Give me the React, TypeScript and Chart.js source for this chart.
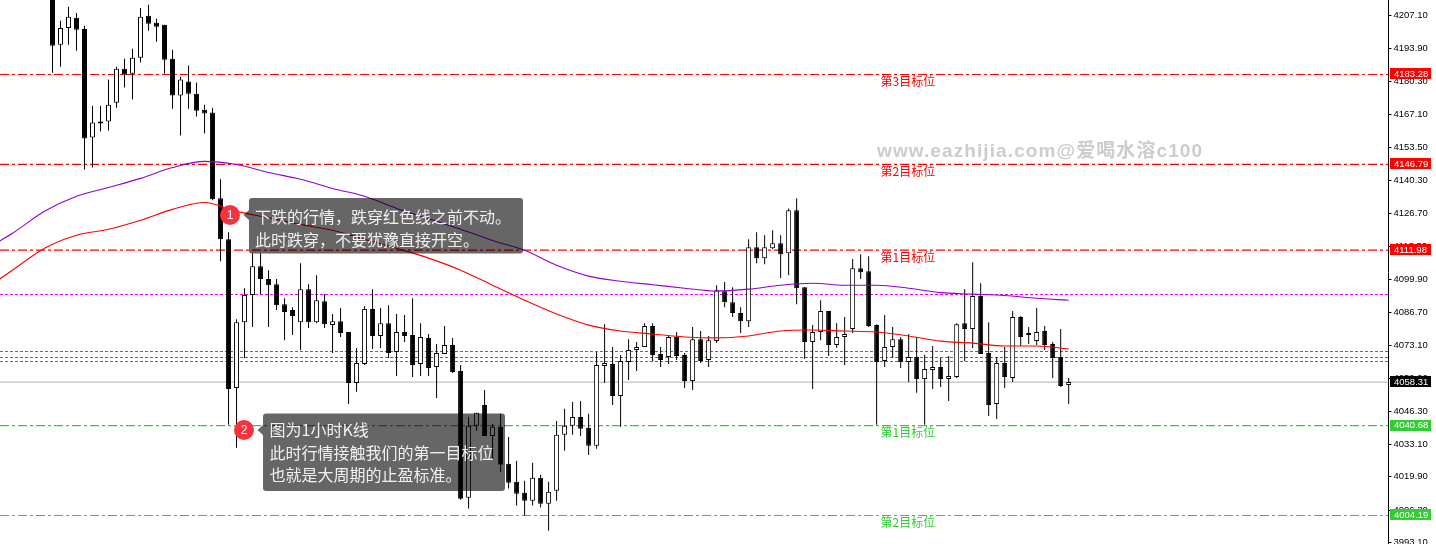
import React, { useEffect, useRef } from "react";
import { Chart, registerables } from "chart.js";

Chart.register(...registerables);

const opens = [
  4217.2, 4195.4, 4202.2, 4206.3, 4201.8, 4157.7, 4164.2, 4164.2, 4171.8, 4185.6, 4183.6, 4190.1, 4207.1, 4204.3, 4203.5, 4189.7,
  4174.7, 4180.4, 4175.5, 4169.0, 4167.8, 4133.0, 4116.4, 4056.0, 4082.7, 4093.7, 4105.4, 4100.2, 4098.1, 4090.0, 4087.6, 4082.7,
  4096.1, 4082.7, 4091.2, 4081.5, 4083.1, 4078.7, 4058.0, 4065.7, 4088.0, 4077.1, 4082.3, 4070.6, 4078.7, 4077.5, 4065.7, 4076.3,
  4064.5, 4069.8, 4073.4, 4062.9, 4011.4, 4040.6, 4049.1, 4036.5, 4040.2, 4025.2, 4017.9, 4013.4, 4010.2, 4019.5, 4009.0, 4014.2,
  4037.0, 4040.6, 4044.2, 4039.8, 4032.5, 4064.9, 4065.7, 4052.7, 4066.5, 4071.4, 4072.6, 4081.1, 4069.8, 4068.6, 4076.7, 4069.4,
  4058.8, 4075.8, 4067.3, 4075.0, 4095.3, 4090.8, 4086.4, 4083.1, 4113.1, 4108.7, 4112.7, 4114.7, 4110.7, 4128.1, 4096.9, 4074.6,
  4078.7, 4087.2, 4073.4, 4076.7, 4079.9, 4104.6, 4103.4, 4081.5, 4066.9, 4072.6, 4075.8, 4066.5, 4068.6, 4059.6, 4063.3, 4064.5,
  4059.6, 4060.4, 4082.3, 4079.9, 4093.3, 4070.2, 4049.5, 4066.1, 4060.0, 4084.8, 4077.5, 4075.0, 4079.1, 4073.8, 4068.6, 4057.2,
];
const highs = [
  4219.0, 4205.1, 4210.8, 4208.3, 4203.1, 4170.6, 4170.6, 4181.2, 4186.4, 4189.7, 4193.7, 4210.3, 4211.6, 4205.9, 4203.5, 4193.3,
  4182.4, 4186.9, 4180.0, 4171.0, 4169.8, 4140.7, 4119.2, 4083.9, 4096.5, 4110.7, 4110.7, 4103.8, 4100.2, 4092.4, 4088.8, 4106.6,
  4098.1, 4101.8, 4094.1, 4086.0, 4088.4, 4078.7, 4072.2, 4089.2, 4096.1, 4088.4, 4089.6, 4086.0, 4085.6, 4092.4, 4082.3, 4077.9,
  4073.8, 4081.1, 4076.3, 4065.3, 4044.2, 4045.9, 4055.2, 4041.4, 4045.5, 4036.1, 4026.4, 4018.3, 4025.6, 4020.7, 4017.9, 4042.6,
  4047.5, 4050.3, 4050.7, 4045.5, 4070.6, 4081.9, 4072.6, 4069.4, 4075.8, 4074.6, 4082.3, 4082.3, 4072.6, 4077.5, 4078.7, 4070.2,
  4080.7, 4079.1, 4077.1, 4097.7, 4099.0, 4096.9, 4088.8, 4116.4, 4119.2, 4118.0, 4120.0, 4118.0, 4128.9, 4133.0, 4096.9, 4081.5,
  4091.6, 4087.2, 4082.3, 4084.8, 4108.3, 4110.3, 4109.5, 4081.9, 4085.6, 4080.7, 4076.7, 4077.9, 4076.7, 4069.4, 4073.0, 4068.1,
  4069.0, 4082.3, 4096.1, 4107.0, 4098.5, 4082.7, 4068.6, 4072.6, 4087.2, 4085.2, 4080.7, 4088.4, 4081.1, 4074.6, 4079.9, 4060.0,
];
const lows = [
  4184.0, 4186.4, 4195.4, 4192.9, 4144.7, 4145.5, 4160.1, 4160.5, 4169.8, 4178.0, 4173.1, 4188.1, 4201.0, 4196.6, 4183.6, 4169.4,
  4158.5, 4169.4, 4166.2, 4159.3, 4132.2, 4107.4, 4041.0, 4031.7, 4068.1, 4080.7, 4094.1, 4080.7, 4087.6, 4075.4, 4077.5, 4071.4,
  4080.3, 4082.3, 4080.3, 4070.2, 4076.7, 4049.5, 4054.4, 4065.3, 4071.8, 4072.2, 4068.1, 4060.8, 4074.6, 4060.4, 4060.8, 4060.8,
  4051.9, 4069.8, 4062.1, 4010.6, 4007.0, 4038.6, 4036.5, 4026.8, 4021.9, 4015.1, 4008.2, 4004.1, 4008.2, 4007.4, 3998.0, 4010.2,
  4030.5, 4037.0, 4036.5, 4028.8, 4031.3, 4058.0, 4049.1, 4040.2, 4059.2, 4062.9, 4072.6, 4066.9, 4064.5, 4065.7, 4067.3, 4056.0,
  4055.2, 4066.1, 4064.5, 4074.2, 4088.8, 4084.8, 4078.3, 4080.7, 4106.6, 4106.2, 4112.3, 4100.6, 4101.8, 4090.0, 4067.7, 4055.6,
  4075.4, 4069.0, 4072.2, 4065.3, 4078.3, 4100.2, 4080.7, 4041.0, 4064.5, 4068.1, 4064.1, 4058.4, 4054.0, 4041.0, 4055.6, 4056.4,
  4050.7, 4060.0, 4066.9, 4072.2, 4069.8, 4044.6, 4043.4, 4056.0, 4058.4, 4073.0, 4073.8, 4073.4, 4071.4, 4060.0, 4056.4, 4049.5,
];
const closes = [
  4195.0, 4202.2, 4206.7, 4201.4, 4157.3, 4163.8, 4163.4, 4171.0, 4185.6, 4183.2, 4190.1, 4206.7, 4203.9, 4202.7, 4189.3, 4174.7,
  4181.2, 4175.5, 4168.6, 4167.4, 4132.6, 4116.4, 4055.6, 4082.7, 4093.7, 4105.4, 4100.2, 4097.7, 4089.6, 4086.8, 4085.2, 4096.1,
  4082.7, 4091.6, 4081.9, 4083.1, 4078.3, 4058.0, 4066.1, 4088.0, 4077.1, 4082.3, 4070.2, 4078.7, 4077.1, 4065.3, 4076.7, 4064.1,
  4070.2, 4073.4, 4062.5, 4011.0, 4040.6, 4045.9, 4036.5, 4040.2, 4024.8, 4017.5, 4013.0, 4010.2, 4019.5, 4009.0, 4013.8, 4037.0,
  4040.6, 4044.2, 4039.4, 4032.5, 4065.3, 4066.1, 4052.7, 4066.9, 4071.4, 4072.6, 4081.1, 4069.4, 4067.3, 4076.7, 4069.0, 4058.8,
  4075.8, 4066.9, 4075.4, 4095.7, 4090.8, 4086.4, 4083.1, 4113.1, 4108.7, 4113.1, 4114.7, 4110.3, 4128.1, 4096.5, 4074.6, 4078.7,
  4087.2, 4073.4, 4076.7, 4077.9, 4104.6, 4103.0, 4081.1, 4066.5, 4072.6, 4075.8, 4066.5, 4068.6, 4059.6, 4063.7, 4064.5, 4059.6,
  4060.8, 4081.9, 4079.9, 4093.3, 4069.8, 4049.1, 4066.1, 4060.4, 4084.8, 4076.7, 4077.5, 4078.7, 4073.4, 4068.1, 4056.8, 4058.4,
];

// Moving averages, read every fourth bar, first reading at bar -9.
const maBars = [
  -9, -5, -1, 3, 7, 11, 15, 19, 23, 27, 31, 35, 39, 43, 47, 51, 55, 59, 63, 67, 71, 75, 79, 83, 87, 91, 95, 99, 103, 107, 111, 115, 119, 123, 127,
];
const maSlow = [
  4111.1, 4118.8, 4127.7, 4133.8, 4137.4, 4141.1, 4145.5, 4148.0, 4146.7, 4143.5, 4140.7, 4137.0, 4133.8, 4128.9, 4124.7, 4120.4, 4115.9, 4111.9,
  4105.8, 4101.4, 4099.3, 4097.9, 4096.5, 4095.3, 4096.1, 4097.7, 4098.5, 4097.7, 4097.7, 4096.5, 4094.7, 4094.1, 4093.5, 4092.4, 4091.6,
];
const maFast = [
  4094.9, 4103.8, 4112.7, 4118.0, 4120.4, 4124.1, 4128.5, 4131.3, 4127.7, 4125.1, 4122.4, 4120.0, 4116.4, 4112.7, 4108.7, 4103.8, 4097.7, 4091.6,
  4086.0, 4081.5, 4079.1, 4077.9, 4076.7, 4076.3, 4077.1, 4079.1, 4079.5, 4079.1, 4078.7, 4077.1, 4075.0, 4074.2, 4073.0, 4073.0, 4071.8,
];

const tickValues = [
  4207.1, 4193.9, 4180.3, 4167.1, 4153.5, 4140.3, 4126.7, 4113.5, 4099.9, 4086.7, 4073.1, 4059.9, 4046.3, 4033.1, 4019.9, 4006.3, 3993.1,
];
const redLevels = [4183.28, 4146.79, 4111.98];
const greenLevels = [4040.68, 4004.19];
const magentaLevels = [4093.93, 4070.78, 4068.35, 4066.73];
const lastPrice = 4058.31;

const redLabels = ["第3目标位", "第2目标位", "第1目标位"];
const greenLabels = ["第1目标位", "第2目标位"];
const watermark = "www.eazhijia.com@爱喝水溶c100";
const note1 = ["下跌的行情，跌穿红色线之前不动。", "此时跌穿，不要犹豫直接开空。"];
const note2 = ["图为1小时K线", "此时行情接触我们的第一目标位", "也就是大周期的止盈标准。"];

const X_MIN = -6.5625;
const X_MAX = 166.97;
const Y_MAX = 4213.53;
const Y_MIN = 3992.61;
const RED = "#ff0000";
const GREEN = "#32cd32";
const MAGENTA = "#ff00ff";
const PURPLE = "#9400d3";
const AXIS_FAMILY = '"Liberation Sans", Arial, sans-serif';
const AXIS_FONT = `9.5px ${AXIS_FAMILY}`;
const CJK = '"Noto Sans CJK SC", "Noto Sans", sans-serif';

const levelDataset = (v: number, color: string, dash: number[]) => ({
  type: "line",
  data: [
    { x: X_MIN, y: v },
    { x: X_MAX, y: v },
  ],
  borderColor: color,
  borderWidth: 1.2,
  borderDash: dash,
  pointRadius: 0,
  order: 5,
});

function note(
  ctx: CanvasRenderingContext2D,
  x: number,
  y: number,
  w: number,
  h: number,
  tipY: number,
  cx: number,
  num: string,
  lines: string[],
  textX: number,
  firstY: number,
  lineH: number,
) {
  ctx.save();
  ctx.fillStyle = "rgba(0,0,0,0.6)";
  ctx.beginPath();
  ctx.roundRect(x, y, w, h, 3);
  ctx.moveTo(x, tipY - 5);
  ctx.lineTo(x - 5.5, tipY);
  ctx.lineTo(x, tipY + 5);
  ctx.closePath();
  ctx.fill();
  ctx.fillStyle = "#f5333f";
  ctx.beginPath();
  ctx.arc(cx, tipY, 10, 0, Math.PI * 2);
  ctx.fill();
  ctx.fillStyle = "#fff";
  ctx.font = '12px "Liberation Sans", sans-serif';
  ctx.textAlign = "center";
  ctx.textBaseline = "middle";
  ctx.fillText(num, cx, tipY + 0.5);
  ctx.textAlign = "left";
  ctx.fillStyle = "#f0f0f0";
  ctx.font = `16px ${CJK}`;
  lines.forEach((t, i) => ctx.fillText(t, textX, firstY + i * lineH));
  ctx.restore();
}

const overlay = {
  id: "overlay",
  afterDraw(chart: any) {
    const { ctx, scales } = chart;
    const py = (v: number) => scales.y.getPixelForValue(v);
    ctx.save();
    ctx.textBaseline = "middle";
    ctx.textAlign = "left";

    ctx.font = `bold 19px "Liberation Sans", ${CJK}`;
    (ctx as any).letterSpacing = "1.1px";
    ctx.fillStyle = "#cccccc";
    ctx.fillText(watermark, 877, 152);
    (ctx as any).letterSpacing = "0px";

    ctx.font = `12px ${CJK}`;
    ctx.fillStyle = RED;
    redLevels.forEach((v, i) => ctx.fillText(redLabels[i], 880.5, py(v) + 7));
    ctx.fillStyle = GREEN;
    greenLevels.forEach((v, i) => ctx.fillText(greenLabels[i], 880.5, py(v) + 7));

    const tag = (v: number, bg: string) => {
      const y = py(v);
      ctx.fillStyle = bg;
      ctx.fillRect(1390, Math.round(y) - 6, 41, 11);
      ctx.fillStyle = "#fff";
      ctx.font = AXIS_FONT;
      ctx.fillText(v.toFixed(2), 1394, y);
    };
    redLevels.forEach((v) => tag(v, RED));
    greenLevels.forEach((v) => tag(v, GREEN));
    tag(lastPrice, "#000");
    ctx.restore();

    note(ctx, 249, 198, 274, 55.5, 215, 230, "1", note1, 255, 216.5, 23.5);
    note(ctx, 263, 413.5, 242, 77.5, 430, 244, "2", note2, 269.5, 430, 22.5);
  },
};

export default function App() {
  const ref = useRef<HTMLCanvasElement | null>(null);

  useEffect(() => {
    const bars = closes.map((_, i) => i);
    const isUp = closes.map((c, i) => c > opens[i]);
    const chart = new Chart(ref.current as HTMLCanvasElement, {
      type: "bar",
      data: {
        datasets: [
          ...redLevels.map((v) => levelDataset(v, RED, [9, 3, 3, 3])),
          ...greenLevels.map((v) => levelDataset(v, GREEN, [9, 3, 3, 3])),
          ...magentaLevels.map((v) => levelDataset(v, MAGENTA, [3, 2])),
          levelDataset(lastPrice, "#c0c0c0", []),
          {
            type: "bar",
            data: bars.map((i) => ({ x: i, y: [lows[i], highs[i]] })),
            backgroundColor: "#000",
            borderWidth: 0,
            barThickness: 1,
            grouped: false,
            inflateAmount: 0,
            order: 4,
          },
          {
            type: "bar",
            data: bars.map((i) => ({ x: i, y: [opens[i], closes[i]] })),
            backgroundColor: isUp.map((u) => (u ? "#fff" : "#000")),
            borderColor: "#000",
            borderWidth: 1,
            borderSkipped: false,
            barThickness: 5,
            grouped: false,
            minBarLength: 2,
            inflateAmount: 0,
            order: 3,
          },
          {
            type: "line",
            data: maBars.map((b, i) => ({ x: b, y: maSlow[i] })),
            borderColor: PURPLE,
            borderWidth: 1.1,
            cubicInterpolationMode: "monotone",
            pointRadius: 0,
            order: 1,
          },
          {
            type: "line",
            data: maBars.map((b, i) => ({ x: b, y: maFast[i] })),
            borderColor: RED,
            borderWidth: 1.1,
            cubicInterpolationMode: "monotone",
            pointRadius: 0,
            order: 1,
          },
        ] as any,
      },
      options: {
        responsive: false,
        animation: false,
        layout: { padding: 0 },
        plugins: { legend: { display: false }, tooltip: { enabled: false }, title: { display: false } },
        scales: {
          x: { type: "linear", display: false, min: X_MIN, max: X_MAX, offset: false, grid: { display: false } },
          y: {
            type: "linear",
            position: "right",
            min: Y_MIN,
            max: Y_MAX,
            afterBuildTicks: (s: any) => {
              s.ticks = tickValues.map((value) => ({ value }));
            },
            afterFit: (s: any) => {
              s.width = 47.5;
              s.paddingTop = 0;
              s.paddingBottom = 0;
            },
            border: { display: true, color: "#000", width: 1 },
            grid: { drawOnChartArea: false, drawTicks: true, tickLength: 3, color: "#000" },
            ticks: {
              autoSkip: false,
              maxRotation: 0,
              padding: 2,
              color: "#000",
              font: { family: AXIS_FAMILY, size: 9.5 },
              callback: (v: any) => Number(v).toFixed(2),
            },
          },
        },
      } as any,
      plugins: [overlay],
    } as any);
    return () => chart.destroy();
  }, []);

  return (
    <div style={{ position: "fixed", left: 0, top: 0, width: 1436, height: 544, background: "#fff", overflow: "hidden" }}>
      <canvas ref={ref} width={1436} height={544} style={{ display: "block" }} />
    </div>
  );
}
